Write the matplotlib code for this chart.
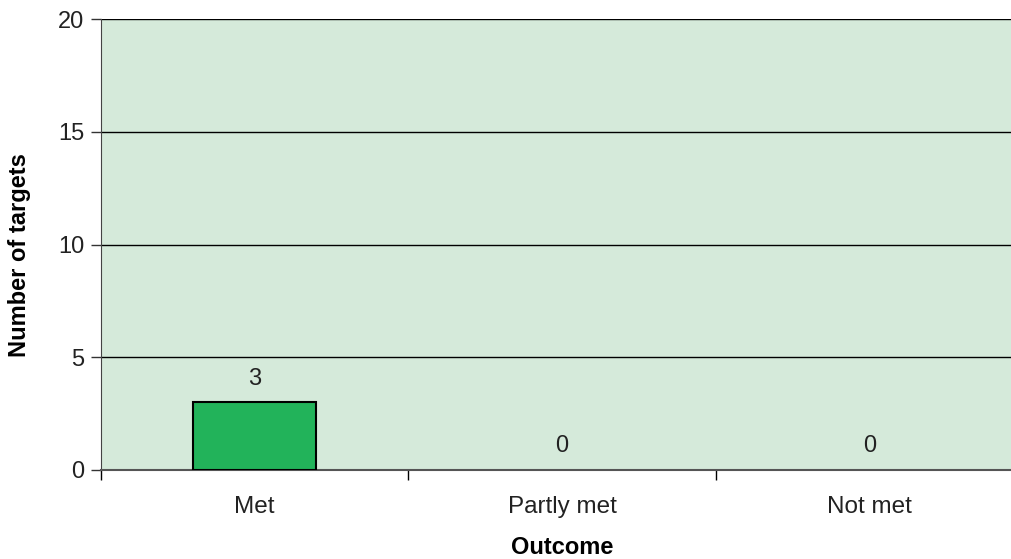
import matplotlib.pyplot as plt
import numpy as np

plt.rcParams['font.family'] = ['Liberation Sans', 'DejaVu Sans']

outcomes = ['Met', 'Partly met', 'Not met']
targets = [3, 0, 0]

fig = plt.figure(figsize=(10.12, 5.59), dpi=100)
# plot area runs a little past the right edge of the figure
ax = fig.add_axes([101 / 1012, 89 / 559, 922 / 1012, 451 / 559])
ax.set_facecolor('#d5eada')

x = np.arange(len(outcomes))
bars = ax.bar(x, targets, width=0.4, color='#22b35a', edgecolor='black', linewidth=1.5, zorder=3)
for b, v in zip(bars, targets):
    if v == 0:
        b.set_linewidth(0)
for xi, v in zip(x, targets):
    ax.annotate(str(v), (xi, v), xytext=(0, 9), textcoords='offset points',
                ha='center', va='bottom', fontsize=17, color='#222222')

ax.set_xlim(-0.5, 2.5)
ax.set_ylim(0, 20)
ax.set_yticks([0, 5, 10, 15, 20])
ax.yaxis.grid(True, color='black', linewidth=1)
ax.set_axisbelow(True)

ax.set_xticks(x)
ax.set_xticklabels(outcomes)
ax.set_xticks([-0.5, 0.5, 1.5, 2.5], minor=True)
ax.tick_params(axis='x', which='major', length=0, pad=19, labelsize=17.5, labelcolor='#222222')
ax.tick_params(axis='x', which='minor', length=7, width=1, color='black', direction='out')
ax.tick_params(axis='y', length=7, width=1, color='#333333', labelsize=17, labelcolor='#222222', pad=5)

for s in ['top', 'right']:
    ax.spines[s].set_visible(False)
ax.spines['left'].set_color('#444444')
ax.spines['bottom'].set_color('#555555')
ax.spines['bottom'].set_linewidth(1.5)

ax.set_xlabel('Outcome', fontsize=17, fontweight='bold', labelpad=13)
ax.set_ylabel('Number of targets', fontsize=17, fontweight='bold')
ax.yaxis.set_label_coords(-70 / 922, 0.477)

fig.savefig('out.png', dpi=100)
